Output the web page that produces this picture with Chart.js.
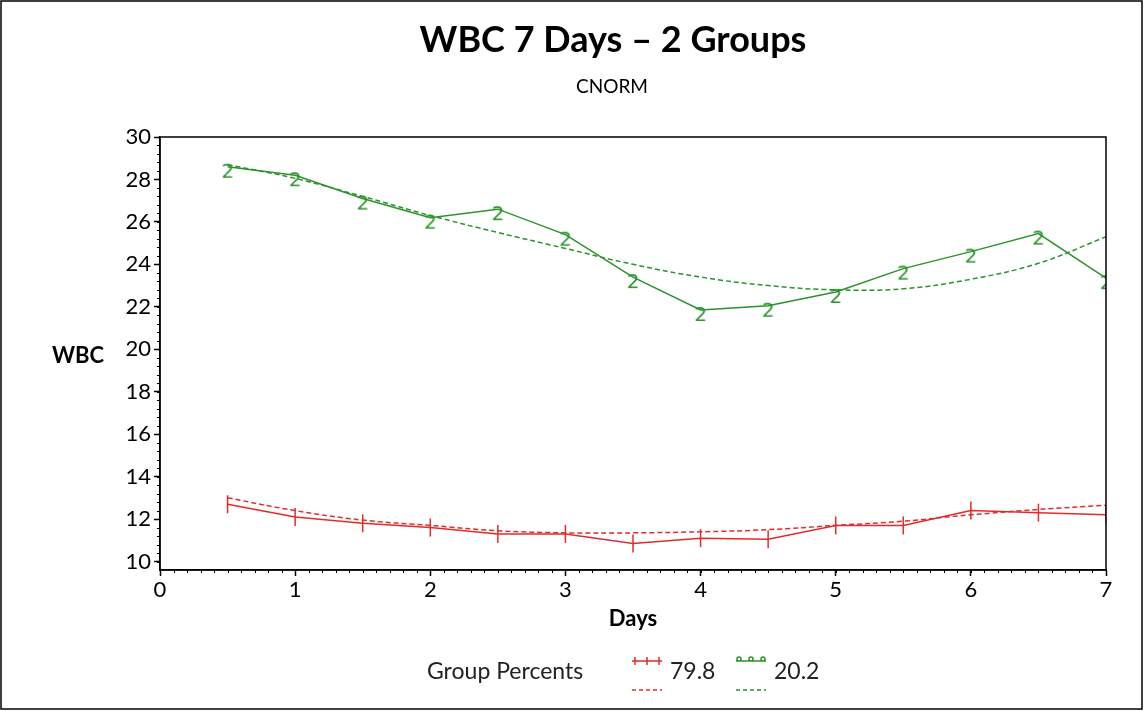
<!DOCTYPE html>
<html>
<head>
<meta charset="utf-8">
<script src="https://cdn.jsdelivr.net/npm/chart.js@4/dist/chart.umd.min.js"></script>
<style>
  html, body { margin: 0; padding: 0; background: #fff; }
  #wrap { width: 1144px; height: 711px; }
</style>
</head>
<body>
<div id="wrap"><canvas id="grafico"></canvas></div>
<script>
// DADOS DO GRÁFICO
const dias = [0.5, 1, 1.5, 2, 2.5, 3, 3.5, 4, 4.5, 5, 5.5, 6, 6.5, 7];
const vermelhoObs = [12.7, 12.1, 11.8, 11.6, 11.3, 11.3, 10.85, 11.1, 11.05, 11.7, 11.7, 12.4, 12.3, 12.2];
const vermelhoAjuste = [13.0, 12.4, 11.95, 11.7, 11.45, 11.35, 11.35, 11.4, 11.5, 11.7, 11.9, 12.2, 12.45, 12.65];
const verdeObs = [28.6, 28.2, 27.1, 26.2, 26.6, 25.4, 23.4, 21.85, 22.05, 22.7, 23.8, 24.6, 25.45, 23.35];
const verdeAjuste = [28.7, 28.05, 27.2, 26.3, 25.5, 24.75, 24.0, 23.4, 23.0, 22.8, 22.85, 23.3, 24.05, 25.3];
const gruposLegenda = ['79.8', '20.2'];
const ticksX = [0, 1, 2, 3, 4, 5, 6, 7];
const ticksY = [10, 12, 14, 16, 18, 20, 22, 24, 26, 28, 30];

const VERMELHO = '#e42a2a';
const VERDE = '#2a932a';
const FONTE = 'Lato, "Open Sans", sans-serif';

// MARCADOR "2" PARA O GRUPO VERDE
function marcadorDois(cor) {
    const c = document.createElement('canvas');
    c.width = 16; c.height = 38;
    const g = c.getContext('2d');
    g.fillStyle = cor;
    g.font = '20px "DejaVu Sans"';
    g.textAlign = 'center';
    g.textBaseline = 'top';
    g.fillText('2', 8, 15);
    return c;
}
const dois = marcadorDois(VERDE);

const pontos = arr => arr.map((v, i) => ({ x: dias[i], y: v }));

// PLUGIN PARA TEXTOS, MOLDURA, TICKS MENORES E LEGENDA
const extras = {
    id: 'extras',
    afterDraw(chart) {
        const ctx = chart.ctx;
        const a = chart.chartArea;
        const sx = chart.scales.x, sy = chart.scales.y;
        ctx.save();
        // moldura externa
        ctx.strokeStyle = '#000';
        ctx.lineWidth = 1.5;
        ctx.strokeRect(1, 1, 1141, 708);
        // caixa da área do gráfico
        ctx.strokeRect(a.left, a.top, a.right - a.left, a.bottom - a.top);
        // ticks menores
        ctx.lineWidth = 1;
        ctx.beginPath();
        for (let v = 0; v <= 7.001; v += 0.1) {
            const px = Math.round(sx.getPixelForValue(v)) + 0.5;
            ctx.moveTo(px, a.bottom); ctx.lineTo(px, a.bottom + 3);
        }
        for (let v = 10; v <= 30.001; v += 0.4) {
            const py = Math.round(sy.getPixelForValue(v)) + 0.5;
            ctx.moveTo(a.left, py); ctx.lineTo(a.left - 3, py);
        }
        ctx.stroke();
        // títulos
        ctx.fillStyle = '#000';
        ctx.textAlign = 'center';
        ctx.textBaseline = 'middle';
        ctx.font = 'bold 36px ' + FONTE;
        ctx.fillText('WBC 7 Days \u2013 2 Groups', 613, 40);
        ctx.font = '19px ' + FONTE;
        ctx.fillText('CNORM', 612, 87);
        ctx.font = 'bold 22px ' + FONTE;
        ctx.fillText('Days', 633, 619);
        ctx.fillText('WBC', 78, 356);
        // legenda
        ctx.textAlign = 'left';
        ctx.font = '23px ' + FONTE;
        ctx.fillStyle = '#222';
        ctx.fillText('Group Percents', 427, 672);
        const itens = [
            { x: 632, cor: VERMELHO, texto: gruposLegenda[0], verde: false },
            { x: 736, cor: VERDE, texto: gruposLegenda[1], verde: true }
        ];
        itens.forEach(it => {
            ctx.strokeStyle = it.cor;
            ctx.lineWidth = 1.5;
            ctx.setLineDash([]);
            ctx.beginPath();
            ctx.moveTo(it.x, 661); ctx.lineTo(it.x + 30, 661);
            [3, 15, 27].forEach(d => {
                if (it.verde) {
                    ctx.moveTo(it.x + d + 2, 659); ctx.arc(it.x + d, 659, 2, 0, Math.PI * 2);
                } else {
                    ctx.moveTo(it.x + d, 657); ctx.lineTo(it.x + d, 665);
                }
            });
            ctx.stroke();
            ctx.setLineDash([4, 3]);
            ctx.beginPath();
            ctx.moveTo(it.x, 690); ctx.lineTo(it.x + 30, 690);
            ctx.stroke();
            ctx.setLineDash([]);
            ctx.fillStyle = '#222';
            ctx.fillText(it.texto, it.x + 38, 672);
        });
        ctx.restore();
    }
};

const ctx = document.getElementById('grafico');

new Chart(ctx, {
    type: 'line',
    data: {
        datasets: [
            {
                label: 'ajuste vermelho',
                data: pontos(vermelhoAjuste),
                borderColor: VERMELHO,
                borderWidth: 1.5,
                borderDash: [5, 3],
                pointRadius: 0,
                tension: 0.4
            },
            {
                label: gruposLegenda[0],
                data: pontos(vermelhoObs),
                borderColor: VERMELHO,
                borderWidth: 1.5,
                pointStyle: 'line',
                rotation: 90,
                pointRadius: 9,
                pointBorderWidth: 1.5,
                pointBorderColor: VERMELHO
            },
            {
                label: 'ajuste verde',
                data: pontos(verdeAjuste),
                borderColor: VERDE,
                borderWidth: 1.5,
                borderDash: [5, 3],
                pointRadius: 0,
                tension: 0.4
            },
            {
                label: gruposLegenda[1],
                data: pontos(verdeObs),
                borderColor: VERDE,
                borderWidth: 1.5,
                pointStyle: dois,
                pointRadius: 8
            }
        ]
    },
    options: {
        responsive: true,
        maintainAspectRatio: false,
        animation: false,
        layout: { padding: { left: 0, top: 137, right: 38, bottom: 101 } },
        plugins: {
            legend: { display: false },
            tooltip: { enabled: false }
        },
        scales: {
            x: {
                type: 'linear',
                min: 0,
                max: 7,
                afterBuildTicks: s => { s.ticks = ticksX.map(v => ({ value: v })); },
                afterFit: s => { s.height = 40; },
                grid: { drawOnChartArea: false, tickLength: 6, color: '#000', tickWidth: 1.5 },
                border: { color: '#000', width: 1.5 },
                ticks: { color: '#000', padding: 1, font: { family: FONTE, size: 22 } }
            },
            y: {
                min: 9.6,
                max: 30,
                afterBuildTicks: s => { s.ticks = ticksY.map(v => ({ value: v })); },
                afterFit: s => { s.width = 160; },
                grid: { drawOnChartArea: false, tickLength: 6, color: '#000', tickWidth: 1.5 },
                border: { color: '#000', width: 1.5 },
                ticks: { color: '#000', padding: 3, font: { family: FONTE, size: 22 } }
            }
        }
    },
    plugins: [extras]
});
</script>
</body>
</html>
